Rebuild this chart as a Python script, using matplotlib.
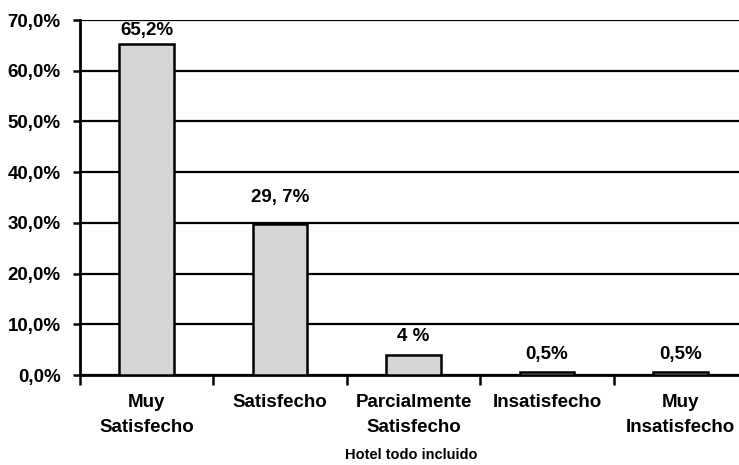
import matplotlib

matplotlib.use("Agg")
import matplotlib.pyplot as plt
from matplotlib.ticker import FixedLocator

plt.rcParams["font.family"] = ["Liberation Sans", "DejaVu Sans"]
plt.rcParams["font.weight"] = "bold"

categories = ["Muy\nSatisfecho", "Satisfecho", "Parcialmente\nSatisfecho",
              "Insatisfecho", "Muy\nInsatisfecho"]
values = [65.2, 29.7, 4.0, 0.5, 0.5]
value_labels = ["65,2%", "29, 7%", "4 %", "0,5%", "0,5%"]
yticks = [0, 10, 20, 30, 40, 50, 60, 70]
ytick_labels = ["0,0%", "10,0%", "20,0%", "30,0%", "40,0%", "50,0%",
                "60,0%", "70,0%"]
xlabel = "Hotel todo incluido"

# label gap above each bar, in points (Excel placed them unevenly)
label_pad = [4, 13, 7, 7, 7]

fig = plt.figure(figsize=(7.39, 4.65), dpi=100)
fig.patch.set_facecolor("white")
ax = fig.add_axes([80 / 739, 90 / 465, 667 / 739, 355 / 465])

x = list(range(len(values)))
ax.set_axisbelow(True)
ax.yaxis.grid(True, color="black", linewidth=1.6)
ax.bar(x, values, width=0.41, color="#d6d6d6", edgecolor="black",
       linewidth=1.8, zorder=3)

for xi, v, lab, pad in zip(x, values, value_labels, label_pad):
    ax.annotate(lab, xy=(xi, v), xytext=(0, pad), textcoords="offset points",
                ha="center", va="bottom", fontsize=13.5, fontweight="bold")

ax.set_xlim(-0.5, len(values) - 0.5)
ax.set_ylim(0, 70)
ax.set_yticks(yticks)
ax.set_yticklabels(ytick_labels, fontsize=13.5, fontweight="bold")
ax.set_xticks(x)
ax.set_xticklabels(categories, fontsize=13.5, fontweight="bold",
                   linespacing=1.6)
ax.xaxis.set_minor_locator(FixedLocator([i - 0.5 for i in range(len(values) + 1)]))
ax.tick_params(axis="x", which="major", length=0, pad=14)
ax.tick_params(axis="x", which="minor", length=7, width=1.8, direction="out")
ax.tick_params(axis="y", length=5, width=1.8, direction="out", pad=9)

for side in ("top", "right"):
    ax.spines[side].set_visible(False)
for side in ("left", "bottom"):
    ax.spines[side].set_linewidth(2)

fig.text(411 / 739, 1 - 455 / 465, xlabel, ha="center", va="center",
         fontsize=10.5, fontweight="bold")

fig.savefig("out.png", dpi=100, facecolor="white")
